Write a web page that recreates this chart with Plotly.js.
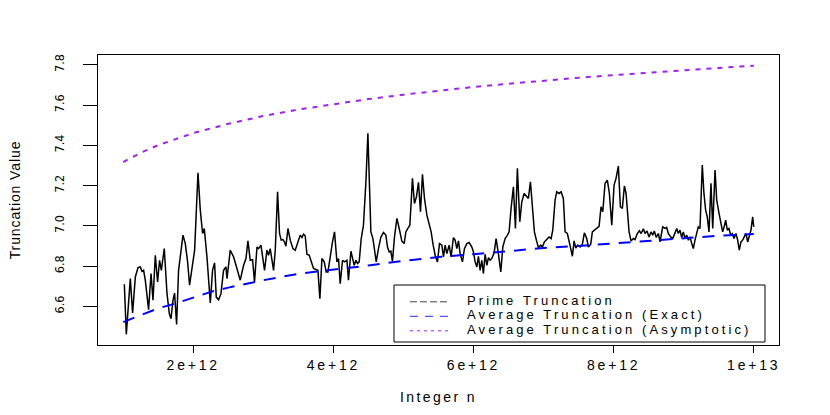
<!DOCTYPE html>
<html>
<head>
<meta charset="utf-8">
<script src="https://cdn.plot.ly/plotly-3.0.1.min.js"></script>
<style>
  html, body { margin: 0; padding: 0; background: #fff; }
  #chart { width: 830px; height: 415px; }
  .xtick text { letter-spacing: 2.8px; }
  .xtitle { letter-spacing: 2.4px; }
  .ytitle { letter-spacing: 0.9px; }
  .annotation-text { letter-spacing: 3.1px; }
</style>
</head>
<body>
<div id="chart"></div>
<script>
// n values are in units of 1e12
var nBlack = [
1.016,1.044,1.101,1.134,1.173,1.211,1.244,1.268,1.291,1.315,1.362,1.397,1.425,1.458,1.491,1.519,1.544,1.586,1.625,1.658,
1.682,1.710,1.733,1.762,1.790,1.825,1.853,1.886,1.919,1.947,1.981,2.019,2.067,2.100,2.133,2.157,2.195,2.243,2.275,2.304,
2.328,2.361,2.395,2.432,2.466,
2.481,2.528,2.575,2.623,2.670,2.718,2.752,2.780,2.813,2.846,2.874,2.909,2.932,2.966,2.994,3.017,3.051,3.074,3.098,3.123,
3.146,3.170,3.203,3.231,3.255,3.280,3.302,3.322,3.351,3.384,3.422,3.455,3.494,3.526,3.551,3.573,3.598,3.622,3.655,3.683,
3.716,3.750,3.779,3.807,3.836,3.869,3.897,3.922,3.954,3.987,4.016,
4.050,4.073,4.097,4.130,4.158,4.193,4.215,4.250,4.272,4.297,4.321,4.344,4.368,4.397,4.429,4.464,4.492,4.515,4.535,4.564,
4.586,4.611,4.643,4.678,4.715,4.749,4.772,4.796,4.820,4.843,4.872,4.906,4.929,4.953,4.977,5.010,5.034,5.063,5.091,5.110,
5.128,5.157,5.185,5.214,5.243,5.271,5.300,5.334,5.367,5.395,5.424,5.452,5.485,5.514,5.548,5.571,
5.595,5.619,5.652,5.680,5.713,5.737,5.762,5.785,5.809,5.842,5.870,5.904,5.937,5.976,5.999,6.023,6.047,6.070,6.094,6.118,
6.141,6.165,6.190,6.213,6.237,6.261,6.294,6.322,6.355,6.389,6.418,6.451,6.484,6.508,6.536,6.569,6.598,6.626,6.660,6.689,
6.722,6.760,6.783,6.812,6.840,6.869,6.897,6.926,6.960,6.983,7.011,7.046,7.078,7.107,7.131,
7.164,7.188,7.221,7.250,7.282,7.307,7.339,7.364,7.392,7.411,7.435,7.459,7.488,7.521,7.554,7.582,7.616,7.639,7.673,7.696,
7.725,7.759,7.792,7.820,7.845,7.877,7.910,7.939,7.973,8.006,8.034,8.067,8.096,8.124,8.153,8.177,8.201,8.220,8.248,8.281,
8.305,8.338,8.367,8.391,8.424,8.448,8.476,8.505,8.533,8.558,8.580,8.609,8.638,
8.662,8.700,8.733,8.757,8.780,8.815,8.843,8.876,8.900,8.923,8.947,8.971,8.994,9.018,9.043,9.066,9.090,9.114,9.137,9.161,
9.185,9.208,9.232,9.265,9.289,9.313,9.336,9.361,9.389,9.414,9.447,9.471,9.504,9.532,9.556,9.579,9.599,9.622,9.646,9.670,
9.693,9.718,9.746,9.770,9.793,9.817,9.841,9.864,9.889,9.913,9.936,9.960,9.984,10.000
];
var vBlack = [
6.710,6.461,6.738,6.567,6.746,6.793,6.796,6.774,6.779,6.730,6.584,6.763,6.630,6.854,6.721,6.829,6.779,6.887,6.663,6.564,
6.539,6.630,6.666,6.510,6.779,6.895,6.954,6.912,6.821,6.705,6.796,6.879,7.264,7.078,6.962,6.987,6.846,6.617,6.779,6.816,
6.646,6.633,6.663,6.779,6.796,
6.738,6.879,6.846,6.788,6.730,6.804,6.838,6.925,6.829,6.832,6.721,6.895,6.887,6.904,6.846,6.779,6.879,6.854,6.887,6.838,
6.779,6.879,7.169,6.962,6.929,6.932,6.920,6.899,6.987,6.929,6.887,6.879,6.920,6.954,6.942,6.959,6.949,6.859,6.854,6.821,
6.788,6.783,6.779,6.638,6.838,6.821,6.771,6.771,6.854,6.920,6.970,
6.821,6.838,6.713,6.829,6.821,6.829,6.730,6.874,6.846,6.804,6.829,6.813,6.821,6.937,7.003,7.219,7.460,7.169,6.970,6.937,
6.879,6.821,6.887,6.945,6.967,6.954,6.895,6.870,6.874,6.824,6.945,7.037,7.003,6.954,6.924,6.912,6.970,6.987,7.003,7.119,
7.236,7.111,7.144,7.216,7.070,7.256,7.136,7.053,7.003,6.970,6.904,6.854,6.821,6.912,6.904,6.846,
6.904,6.862,6.904,6.846,6.942,6.929,6.887,6.925,6.862,6.821,6.887,6.912,6.917,6.895,6.870,6.821,6.796,6.849,6.779,6.829,
6.763,6.859,6.804,6.842,6.829,6.838,6.866,6.937,6.862,6.771,6.895,6.937,6.954,6.970,7.087,7.194,6.987,7.286,7.020,7.119,
7.161,7.144,7.136,7.219,7.111,6.970,6.929,6.892,6.904,6.895,6.920,6.932,6.945,6.937,6.979,
7.128,7.169,7.161,7.169,7.136,6.970,6.962,6.929,6.879,6.849,6.925,6.890,6.904,6.895,6.909,6.965,6.937,6.895,6.909,6.970,
6.979,6.987,6.998,7.095,7.070,7.211,7.227,7.161,7.003,7.203,7.236,7.297,7.095,7.087,7.198,7.161,7.045,6.970,6.925,6.937,
6.932,6.962,6.975,6.962,6.985,6.962,6.975,6.945,6.970,6.954,6.975,6.942,6.962,
6.920,6.995,6.987,6.992,6.962,6.945,6.937,6.965,6.987,6.962,6.979,6.942,6.970,6.937,6.954,6.929,6.945,6.912,6.887,6.929,
6.970,6.995,6.987,7.302,7.161,7.078,7.045,6.970,7.211,6.987,7.277,7.128,7.062,7.020,6.970,6.998,7.028,6.979,6.987,6.954,
6.962,6.937,6.962,6.929,6.879,6.920,6.929,6.945,6.962,6.920,6.954,6.979,7.045,6.995
];
var nExact = [1,1.25,1.5,1.75,2,2.25,2.5,2.75,3,3.5,4,4.5,5,5.5,6,6.5,7,7.5,8,8.5,9,9.5,10];
var vExact = [6.522,6.555,6.590,6.615,6.645,6.672,6.693,6.712,6.730,6.762,6.782,6.803,6.826,6.845,6.859,6.873,6.890,6.900,6.912,6.926,6.938,6.951,6.959];
var nAsym = [1,1.25,1.5,1.75,2,2.5,3,3.5,4,4.5,5,5.5,6,6.5,7,7.5,8,8.5,9,9.5,10];
var vAsym = [7.317,7.363,7.401,7.433,7.461,7.507,7.546,7.578,7.605,7.630,7.652,7.672,7.690,7.706,7.722,7.736,7.749,7.762,7.774,7.785,7.796];

var xTickVals = [2e12, 4e12, 6e12, 8e12, 1e13];
var xTickText = ['2e+12', '4e+12', '6e+12', '8e+12', '1e+13'];
var yTickVals = [6.6, 6.8, 7.0, 7.2, 7.4, 7.6, 7.8];
var yTickText = ['6.6', '6.8', '7.0', '7.2', '7.4', '7.6', '7.8'];
var legendLabels = ['Prime Truncation', 'Average Truncation (Exact)', 'Average Truncation (Asymptotic)'];

var SCALE = 1e12;
function toX(arr) { return arr.map(function (n) { return n * SCALE; }); }

var traces = [
  { x: toX(nBlack), y: vBlack, type: 'scatter', mode: 'lines', name: legendLabels[0],
    line: { color: '#000000', width: 1.5 }, showlegend: false },
  { x: toX(nExact), y: vExact, type: 'scatter', mode: 'lines', name: legendLabels[1],
    line: { color: '#0000ff', width: 2, dash: '12px,9px' }, showlegend: false },
  { x: toX(nAsym), y: vAsym, type: 'scatter', mode: 'lines', name: legendLabels[2],
    line: { color: '#a020f0', width: 2, dash: '5px,6px' }, showlegend: false }
];

// custom legend (box, samples, labels) in paper coordinates
var PL = 98, PR = 779, PT = 55, PB = 345;
function px(x) { return (x - PL) / (PR - PL); }
function py(y) { return (PB - y) / (PB - PT); }

var legendRows = [300.3, 314.8, 329.3];
var legendStyles = [
  { color: '#444444', width: 1, dash: '7px,3px' },
  { color: '#2a2aff', width: 1, dash: '8px,7px' },
  { color: '#a020f0', width: 1, dash: '3px,4px' }
];
var shapes = [
  { type: 'rect', xref: 'paper', yref: 'paper', x0: px(394), x1: px(765), y0: py(342), y1: py(285),
    line: { color: '#000000', width: 1 }, fillcolor: 'rgba(0,0,0,0)' }
];
var annotations = [];
legendRows.forEach(function (ry, i) {
  shapes.push({ type: 'line', xref: 'paper', yref: 'paper', x0: px(410), x1: px(450),
    y0: py(ry + 1.5), y1: py(ry + 1.5), line: legendStyles[i] });
  annotations.push({ xref: 'paper', yref: 'paper', x: px(466), y: py(ry), xanchor: 'left', yanchor: 'middle',
    align: 'left', showarrow: false, text: legendLabels[i], borderpad: 0,
    font: { family: 'Liberation Sans, Arial, sans-serif', size: 13, color: '#000' } });
});

var layout = {
  width: 830, height: 415,
  margin: { l: PL, r: 830 - PR, t: PT, b: 415 - PB, pad: 0 },
  paper_bgcolor: '#ffffff', plot_bgcolor: '#ffffff',
  font: { family: 'Liberation Sans, Arial, sans-serif', color: '#000000', size: 13 },
  showlegend: false,
  xaxis: {
    range: [0.64e12, 10.36e12], tickmode: 'array', tickvals: xTickVals, ticktext: xTickText,
    ticks: 'outside', ticklen: 7, tickwidth: 1, tickcolor: '#000',
    showline: true, mirror: true, linecolor: '#000', linewidth: 1,
    showgrid: false, zeroline: false,
    tickfont: { family: 'Liberation Sans, Arial, sans-serif', size: 14, color: '#000' },
    title: { text: 'Integer n', standoff: 20, font: { family: 'Liberation Sans, Arial, sans-serif', size: 14, color: '#000' } }
  },
  yaxis: {
    range: [6.408, 7.849], tickmode: 'array', tickvals: yTickVals, ticktext: yTickText,
    ticks: 'outside', ticklen: 14, tickwidth: 1, tickcolor: '#000', tickangle: -90,
    ticklabelstandoff: 14,
    showline: true, mirror: true, linecolor: '#000', linewidth: 1,
    showgrid: false, zeroline: false,
    tickfont: { family: 'Liberation Sans Narrow, DejaVu Sans Condensed, Liberation Sans, Arial, sans-serif', size: 12.5, color: '#000' },
    title: { text: 'Truncation Value', standoff: 28, font: { family: 'Liberation Sans, Arial, sans-serif', size: 14, color: '#000' } }
  },
  shapes: shapes,
  annotations: annotations
};

Plotly.newPlot('chart', traces, layout, { displayModeBar: false, staticPlot: true });
</script>
</body>
</html>
